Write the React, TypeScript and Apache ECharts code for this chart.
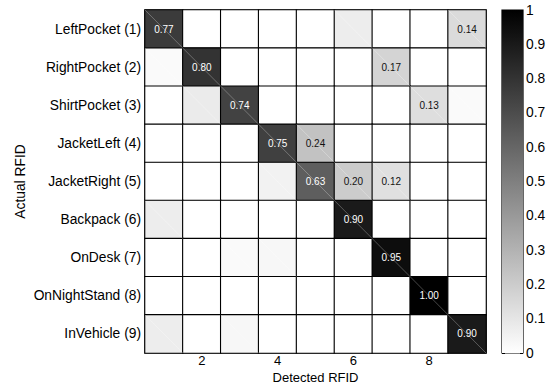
import React, { useEffect, useRef } from "react";
import * as echarts from "echarts";

const rowLabels = [
  "LeftPocket (1)",
  "RightPocket (2)",
  "ShirtPocket (3)",
  "JacketLeft (4)",
  "JacketRight (5)",
  "Backpack (6)",
  "OnDesk (7)",
  "OnNightStand (8)",
  "InVehicle (9)",
];
const colLabels = ["1", "2", "3", "4", "5", "6", "7", "8", "9"];

const row1 = [0.77, 0, 0, 0, 0, 0.07, 0, 0, 0.14];
const row2 = [0.02, 0.8, 0, 0, 0, 0, 0.17, 0, 0];
const row3 = [0, 0.08, 0.74, 0, 0, 0, 0, 0.13, 0.02];
const row4 = [0, 0, 0, 0.75, 0.24, 0, 0, 0, 0];
const row5 = [0, 0, 0, 0.05, 0.63, 0.2, 0.12, 0, 0];
const row6 = [0.07, 0, 0, 0, 0, 0.9, 0, 0, 0];
const row7 = [0, 0, 0.02, 0.03, 0, 0, 0.95, 0, 0];
const row8 = [0, 0, 0, 0, 0, 0, 0, 1.0, 0];
const row9 = [0.07, 0, 0.03, 0, 0, 0, 0, 0, 0.9];
const matrix = [row1, row2, row3, row4, row5, row6, row7, row8, row9];

const colorbarTicks = [0, 0.1, 0.2, 0.3, 0.4, 0.5, 0.6, 0.7, 0.8, 0.9, 1];

const FONT = "Liberation Sans, Arial, Helvetica, sans-serif";

export default function App() {
  const ref = useRef<HTMLDivElement>(null);
  useEffect(() => {
    if (!ref.current) return;
    const chart = echarts.init(ref.current, undefined, { renderer: "svg" });

    const heatData: any[] = [];
    matrix.forEach((row, r) => {
      row.forEach((v, c) => {
        heatData.push({
          value: [c, r, v],
          label: { color: v >= 0.5 ? "#ffffff" : "#111111" },
        });
      });
    });
    const diagData = heatData.filter((d) => d.value[2] > 0).map((d) => d.value);

    chart.setOption({
      animation: false,
      backgroundColor: "#ffffff",
      textStyle: { fontFamily: FONT },
      grid: [
        {
          left: 145,
          top: 10,
          width: 341,
          height: 343,
          show: true,
          borderColor: "#000",
          borderWidth: 1.2,
          backgroundColor: "transparent",
          outerBoundsMode: "none",
          containLabel: false,
        },
        {
          left: 502,
          top: 10,
          width: 21,
          height: 343,
          show: true,
          borderColor: "#000",
          borderWidth: 1.2,
          backgroundColor: "transparent",
          outerBoundsMode: "none",
          containLabel: false,
        },
      ],
      xAxis: [
        {
          type: "category",
          gridIndex: 0,
          data: colLabels,
          axisLine: { show: false },
          axisTick: { show: false },
          splitLine: { show: false },
          axisLabel: {
            interval: (i: number) => i % 2 === 1,
            color: "#000",
            fontSize: 13,
            fontFamily: FONT,
            margin: 1,
          },
          name: "Detected RFID",
          nameLocation: "middle",
          nameGap: 18,
          nameMoveOverlap: false,
          nameTextStyle: { color: "#000", fontSize: 13, fontFamily: FONT },
        },
        {
          type: "category",
          gridIndex: 1,
          data: [""],
          show: false,
        },
      ],
      yAxis: [
        {
          type: "category",
          gridIndex: 0,
          data: rowLabels,
          inverse: true,
          axisLine: { show: false },
          axisTick: { show: false },
          splitLine: { show: false },
          axisLabel: {
            color: "#000",
            fontSize: 13.8,
            fontFamily: FONT,
            margin: 4,
          },
          name: "Actual RFID",
          nameLocation: "middle",
          nameGap: 118,
          nameMoveOverlap: false,
          nameTextStyle: { color: "#000", fontSize: 13.8, fontFamily: FONT },
        },
        {
          type: "value",
          gridIndex: 1,
          position: "right",
          min: 0,
          max: 1,
          interval: 0.1,
          axisLine: { show: false },
          splitLine: { show: false },
          axisTick: { show: true, inside: true, length: 3, lineStyle: { color: "#000" } },
          axisLabel: {
            color: "#000",
            fontSize: 13.8,
            fontFamily: FONT,
            margin: 3,
            formatter: (v: number) => {
              const t = colorbarTicks.find((x) => Math.abs(x - v) < 1e-6);
              if (t === undefined) return "";
              return t === 0 || t === 1 ? String(t) : t.toFixed(1);
            },
          },
        },
        {
          type: "value",
          gridIndex: 1,
          position: "left",
          min: 0,
          max: 1,
          interval: 0.1,
          axisLine: { show: false },
          splitLine: { show: false },
          axisTick: { show: true, inside: true, length: 3, lineStyle: { color: "#000" } },
          axisLabel: { show: false },
        },
      ],
      visualMap: {
        show: false,
        type: "continuous",
        min: 0,
        max: 1,
        dimension: 2,
        seriesIndex: 0,
        inRange: { color: ["#ffffff", "#000000"] },
      },
      series: [
        {
          type: "heatmap",
          xAxisIndex: 0,
          yAxisIndex: 0,
          data: heatData,
          itemStyle: { borderColor: "#000", borderWidth: 1.1 },
          label: {
            show: true,
            fontSize: 10,
            fontFamily: FONT,
            formatter: (p: any) => (p.value[2] >= 0.1 ? p.value[2].toFixed(2) : ""),
          },
          emphasis: { disabled: true },
        },
        {
          type: "custom",
          xAxisIndex: 0,
          yAxisIndex: 0,
          data: diagData,
          silent: true,
          z: 3,
          renderItem: (params: any, api: any) => {
            const c = api.coord([api.value(0), api.value(1)]);
            const s = api.size([1, 1]);
            return {
              type: "line",
              shape: {
                x1: c[0] - s[0] / 2,
                y1: c[1] - s[1] / 2,
                x2: c[0] + s[0] / 2,
                y2: c[1] + s[1] / 2,
              },
              style: { stroke: "rgba(255,255,255,0.35)", lineWidth: 0.8 },
            };
          },
        },
        {
          type: "bar",
          xAxisIndex: 1,
          yAxisIndex: 1,
          data: [1],
          barWidth: "100%",
          silent: true,
          z: 1,
          itemStyle: {
            color: new echarts.graphic.LinearGradient(0, 0, 0, 1, [
              { offset: 0, color: "#000000" },
              { offset: 1, color: "#ffffff" },
            ]),
          },
        },
      ],
    });
    return () => chart.dispose();
  }, []);
  return (
    <div
      ref={ref}
      style={{ position: "absolute", left: 0, top: 0, width: 560, height: 392 }}
    />
  );
}
